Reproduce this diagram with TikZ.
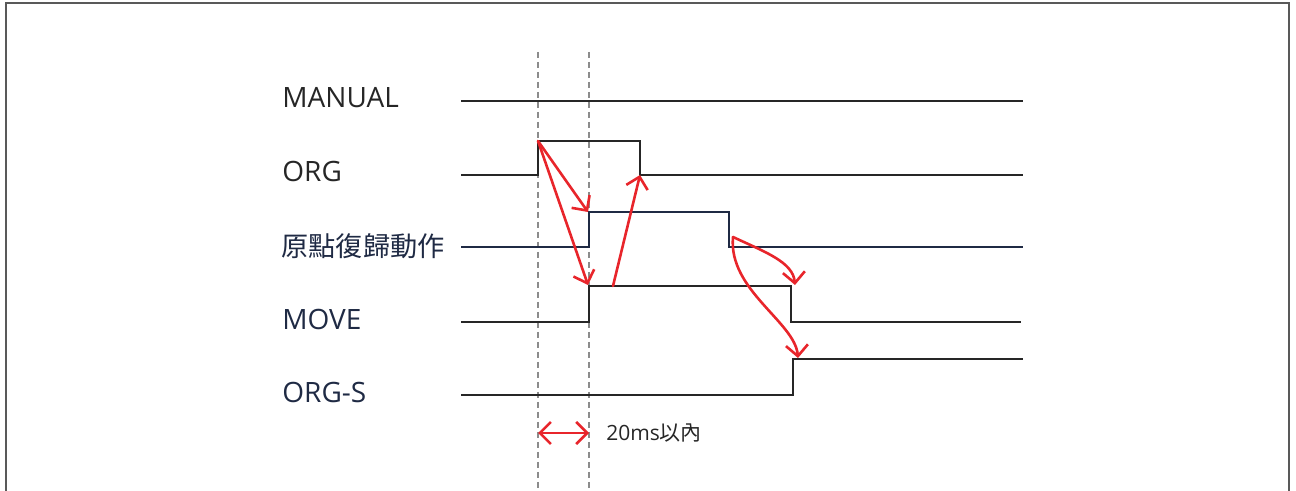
\documentclass[tikz,border=0pt]{standalone}
\usepackage{fontspec}
\setmainfont{Open Sans}
\newfontfamily\cjk{Noto Sans CJK TC}
\usetikzlibrary{arrows.meta}
\definecolor{sigblack}{HTML}{262626}
\definecolor{signavy}{HTML}{1F2A44}
\definecolor{causered}{HTML}{E8252B}

\begin{document}
\begin{tikzpicture}[
  x=.5pt,y=-.5pt,
  lab/.style={anchor=base west,inner sep=0pt,font=\fontsize{14}{16}\selectfont},
  wave/.style={draw=sigblack,line width=1.4pt,line join=miter},
  guide/.style={draw=black!45,line width=1pt,dash pattern=on 3pt off 2pt},
  cause/.style={draw=causered,line width=1.3pt,line cap=round,
                -{Straight Barb[length=5.5pt,width=11pt,line width=1.3pt]}},
  every path/.style={line cap=butt}
]
\useasboundingbox (0,0) rectangle (1296,491);
\draw[black!65,line width=1pt] (6,500) -- (6,3) -- (1289,3) -- (1289,500);

% signal names
\node[lab,text=sigblack] (manual) at (282,108) {MANUAL};
\node[lab,text=sigblack] (org) at (282,182) {ORG};
\node[lab,anchor=west,text=signavy,font=\fontsize{13.6}{16}\selectfont] (homing) at (281,246) {\cjk 原點復歸動作};
\node[lab,text=signavy] (move) at (282,330) {MOVE};
\node[lab,text=signavy] (orgs) at (282,403) {ORG-S};

% timing guides
\draw[guide] (538,52) -- (538,495);
\draw[guide] (589,52) -- (589,495);

% waveforms
\draw[wave] (461,101) -- (1023,101);
\draw[wave] (461,175) -- (538,175) -- (538,141) -- (640,141) -- (640,175) -- (1023,175);
\draw[wave,draw=signavy] (461,247) -- (589,247) -- (589,212) -- (729,212) -- (729,247) -- (1023,247);
\draw[wave] (461,322) -- (589,322) -- (589,286) -- (791,286) -- (791,322) -- (1021,322);
\draw[wave] (461,395) -- (793,395) -- (793,359) -- (1023,359);

\coordinate (orgup) at (538,141);
\coordinate (orgdn) at (640,175);
\coordinate (homeup) at (588,212);
\coordinate (homedn) at (733,237);
\coordinate (moveup) at (588,285);
\coordinate (movehi) at (613,286);
\coordinate (movedn) at (795,285);
\coordinate (orgsup) at (798,358);
\coordinate (lim1) at (538,433);
\coordinate (lim2) at (589,433);

% cause and effect
\draw[cause] (orgup) -- (homeup);
\draw[cause] (orgup) -- (moveup);
\draw[cause] (movehi) -- (orgdn);
\draw[cause] (homedn) .. controls (765,252) and (793,262) .. (movedn);
\draw[cause] (homedn) .. controls (728,290) and (795,322) .. (orgsup);

\draw[cause,{Straight Barb[length=5.5pt,width=11pt,line width=1.3pt]}-{Straight Barb[length=5.5pt,width=11pt,line width=1.3pt]}] (lim1) -- (lim2);
\node[anchor=west,inner sep=0pt,text=sigblack,font=\fontsize{10.5}{12}\selectfont] (limit) at (606,433) {20ms{\cjk 以內}};
\end{tikzpicture}
\end{document}
